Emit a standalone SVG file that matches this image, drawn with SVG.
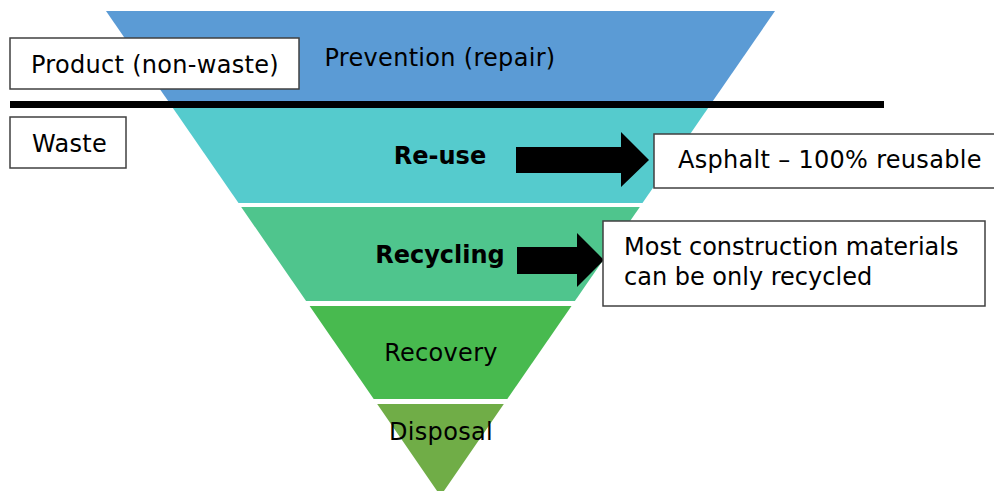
<svg xmlns="http://www.w3.org/2000/svg" width="994" height="491" viewBox="0 0 994 491">
<style>
text{font-family:"DejaVu Sans",Verdana,sans-serif;font-size:24px;fill:#000;letter-spacing:0.3px}
.c{text-anchor:middle}
.b{font-weight:bold;letter-spacing:0}
.n{letter-spacing:0}
.box{fill:#fff;stroke:#404040;stroke-width:1.5}
</style>
<rect width="994" height="491" fill="#fff"/>
<g id="prevention">
<polygon points="106,11 775,11 712.2,102 168.8,102" fill="#5B9BD5"/>
<text class="c" x="440" y="66">Prevention (repair)</text>
</g>
<g id="reuse">
<polygon points="172.2,107 708.8,107 642.5,203 238.5,203" fill="#55CBCD"/>
<text class="c b" x="440" y="164">Re-use</text>
</g>
<g id="recycling">
<polygon points="241.2,207 639.8,207 574.9,301 306.1,301" fill="#4FC58D"/>
<text class="c b" x="440" y="263">Recycling</text>
</g>
<g id="recovery">
<polygon points="309.6,306 571.5,306 507.3,399 373.7,399" fill="#48BA4F"/>
<text class="c" x="441" y="361">Recovery</text>
</g>
<g id="disposal">
<polygon points="377.2,404 503.8,404 440.5,496" fill="#70AD47"/>
<text class="c" x="441" y="440">Disposal</text>
</g>
<g id="divider">
<rect x="10" y="101" width="874" height="7" fill="#000"/>
</g>
<g id="product">
<rect class="box" x="10" y="38" width="289" height="51"/>
<text x="31" y="73">Product (non-waste)</text>
</g>
<g id="waste">
<rect class="box" x="10" y="117" width="116" height="51"/>
<text x="32" y="152">Waste</text>
</g>
<g id="connectors">
<polygon points="516,147 621,147 621,132 649,160 621,187 621,173 516,173" fill="#000"/>
<polygon points="517,247 577,247 577,233 604,260 577,287 577,274 517,274" fill="#000"/>
</g>
<g id="asphalt">
<rect class="box" x="654" y="134" width="345" height="54"/>
<text x="678" y="168">Asphalt – 100% reusable</text>
</g>
<g id="materials">
<rect class="box" x="603" y="221" width="382" height="85"/>
<text class="n" x="624" y="255">Most construction materials</text>
<text class="n" x="624" y="285">can be only recycled</text>
</g>
</svg>
